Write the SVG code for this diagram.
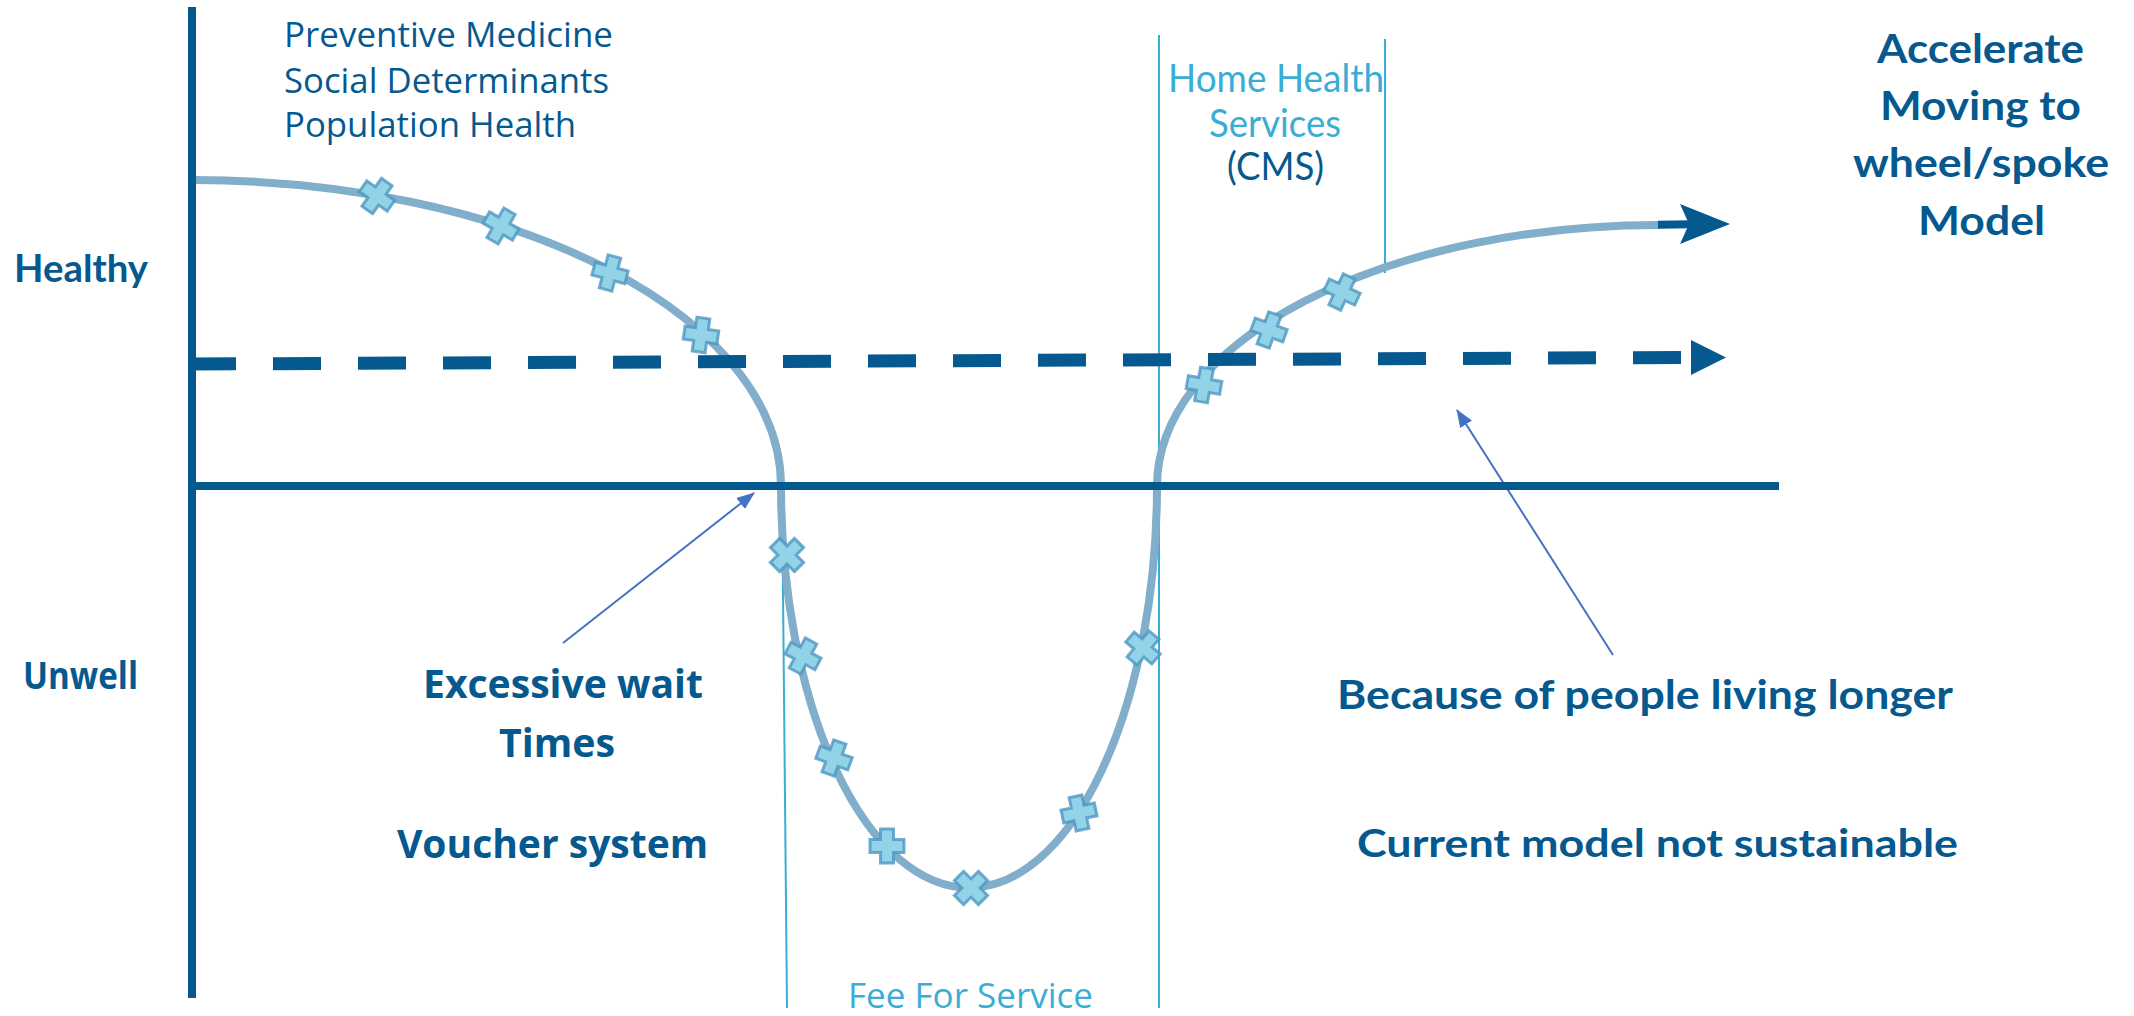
<svg xmlns="http://www.w3.org/2000/svg" xmlns:xlink="http://www.w3.org/1999/xlink" width="2134" height="1016" viewBox="0 0 2134 1016">
<style>
.dk{fill:#05598F}
.lt{fill:#3AADD5}
.seg{font-family:"Open Sans","Noto Sans","DejaVu Sans",sans-serif}
.cal{font-family:Lato,"Open Sans","Liberation Sans",sans-serif}
.b{font-weight:bold}
.axis{stroke:#05598F;stroke-width:8;fill:none}
.thin{stroke:#3AADD5;stroke-width:2;fill:none}
.ptr{stroke:#4472C4;stroke-width:2;fill:none;marker-end:url(#ah2)}
.cx{fill:#93D3E8;stroke:#4E97C2;stroke-width:3;stroke-opacity:0.8}
</style>
<defs>
<marker id="ah2" markerWidth="18" markerHeight="14" refX="17" refY="7" orient="auto" markerUnits="userSpaceOnUse">
<path d="M0,0 L18,7 L0,14 Z" fill="#4472C4"/>
</marker>
<path id="cross" d="M-6.5,-17 H6.5 V-6.5 H17 V6.5 H6.5 V17 H-6.5 V6.5 H-17 V-6.5 H-6.5 Z"/>
</defs>

<g id="guides">
<line class="thin" x1="782" y1="486" x2="787" y2="1008"/>
<line class="thin" x1="1159" y1="35" x2="1159" y2="1008"/>
<line class="thin" x1="1385" y1="39" x2="1385" y2="273"/>
</g>

<g id="curve">
<path d="M194,180 A589,306 0 0 1 781,486 A188,402 0 0 0 1157,486 A502,261 0 0 1 1660,225" fill="none" stroke="#80AECB" stroke-width="8"/>
<line x1="1658" y1="224.8" x2="1692" y2="224.3" stroke="#05598F" stroke-width="8"/>
<polygon points="1680,204 1730,224 1680,244 1689,224" fill="#05598F"/>
</g>

<g id="connectors">
<line x1="188" y1="364" x2="1682" y2="357.5" stroke="#05598F" stroke-width="13" stroke-dasharray="48 37"/>
<polygon points="1691,340 1726,357.5 1691,375" fill="#05598F"/>
<line class="ptr" x1="563" y1="643" x2="754" y2="493"/>
<line class="ptr" x1="1613" y1="655" x2="1457" y2="410"/>
</g>

<g id="axes">
<line class="axis" x1="192" y1="7" x2="192" y2="998"/>
<line class="axis" x1="188" y1="486" x2="1779" y2="486"/>
</g>

<g id="markers" class="cx">
<use xlink:href="#cross" transform="translate(377,196) rotate(35)"/>
<use xlink:href="#cross" transform="translate(501,226) rotate(30)"/>
<use xlink:href="#cross" transform="translate(610,273) rotate(15)"/>
<use xlink:href="#cross" transform="translate(701,335) rotate(8)"/>
<use xlink:href="#cross" transform="translate(787,555) rotate(45)"/>
<use xlink:href="#cross" transform="translate(803,656) rotate(28)"/>
<use xlink:href="#cross" transform="translate(834,758) rotate(20)"/>
<use xlink:href="#cross" transform="translate(887,846) rotate(0)"/>
<use xlink:href="#cross" transform="translate(971,888) rotate(45)"/>
<use xlink:href="#cross" transform="translate(1079,813) rotate(-12)"/>
<use xlink:href="#cross" transform="translate(1143,648) rotate(40)"/>
<use xlink:href="#cross" transform="translate(1204,385) rotate(10)"/>
<use xlink:href="#cross" transform="translate(1269,330) rotate(20)"/>
<use xlink:href="#cross" transform="translate(1342,292) rotate(25)"/>
</g>

<g id="label-prevention" class="seg dk" font-size="34">
<text x="284" y="47" textLength="329" lengthAdjust="spacingAndGlyphs">Preventive Medicine</text>
<text x="284" y="93" textLength="325" lengthAdjust="spacingAndGlyphs">Social Determinants</text>
<text x="284" y="137" textLength="292" lengthAdjust="spacingAndGlyphs">Population Health</text>
</g>

<g id="label-healthy" class="cal b dk" font-size="38">
<text x="14" y="282" textLength="134" lengthAdjust="spacingAndGlyphs">Healthy</text>
</g>
<g id="label-unwell" class="seg b dk" font-size="38">
<text x="23" y="689" textLength="115" lengthAdjust="spacingAndGlyphs">Unwell</text>
</g>

<g id="label-wait" class="seg b dk" font-size="40">
<text x="423" y="698" textLength="280" lengthAdjust="spacingAndGlyphs">Excessive wait</text>
<text x="499" y="757" textLength="116" lengthAdjust="spacingAndGlyphs">Times</text>
</g>
<g id="label-voucher" class="seg b dk" font-size="40">
<text x="397" y="858" textLength="311" lengthAdjust="spacingAndGlyphs">Voucher system</text>
</g>

<g id="label-fee" class="seg lt" font-size="35">
<text x="848" y="1008" textLength="245" lengthAdjust="spacingAndGlyphs">Fee For Service</text>
</g>

<g id="label-home" class="cal" font-size="38">
<text class="lt" x="1168" y="92" textLength="216" lengthAdjust="spacingAndGlyphs">Home Health</text>
<text class="lt" x="1209" y="137" textLength="132" lengthAdjust="spacingAndGlyphs">Services</text>
<text class="dk" x="1227" y="180" textLength="97" lengthAdjust="spacingAndGlyphs">(CMS)</text>
</g>

<g id="label-accelerate" class="cal b dk" font-size="41">
<text x="1877" y="63" textLength="207" lengthAdjust="spacingAndGlyphs">Accelerate</text>
<text x="1880" y="120" textLength="201" lengthAdjust="spacingAndGlyphs">Moving to</text>
<text x="1853" y="177" textLength="256" lengthAdjust="spacingAndGlyphs">wheel/spoke</text>
<text x="1918" y="235" textLength="127" lengthAdjust="spacingAndGlyphs">Model</text>
</g>

<g id="label-longer" class="cal b dk" font-size="40">
<text x="1337" y="709" textLength="616" lengthAdjust="spacingAndGlyphs">Because of people living longer</text>
</g>
<g id="label-sustain" class="cal b dk" font-size="39">
<text x="1357" y="857" textLength="601" lengthAdjust="spacingAndGlyphs">Current model not sustainable</text>
</g>
</svg>
